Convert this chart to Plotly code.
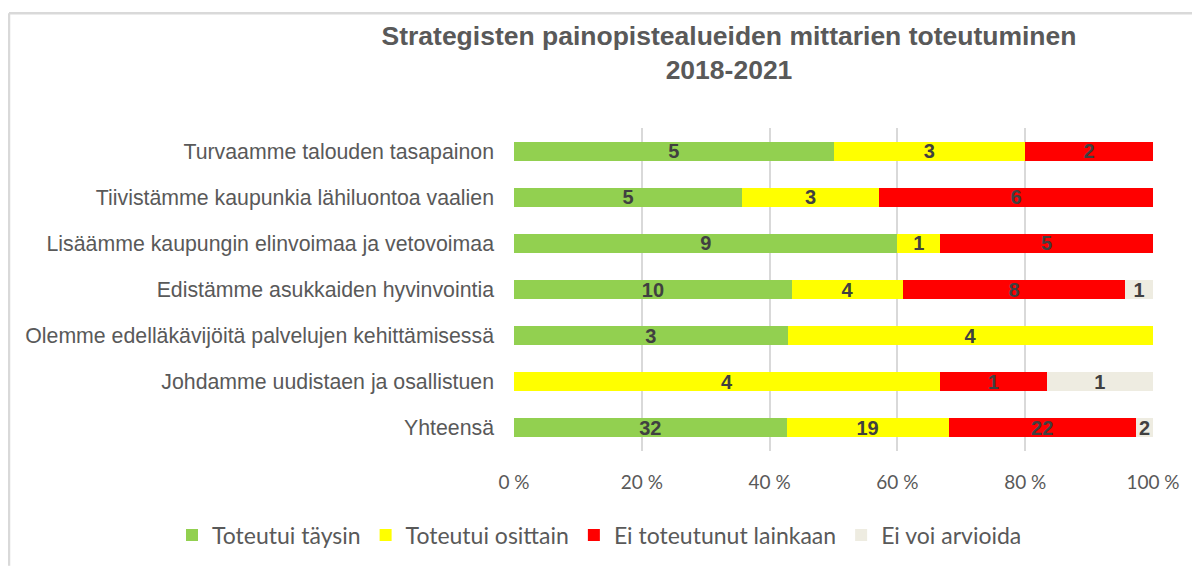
import plotly.graph_objects as go

categories = [
    "Turvaamme talouden tasapainon",
    "Tiivistämme kaupunkia lähiluontoa vaalien",
    "Lisäämme kaupungin elinvoimaa ja vetovoimaa",
    "Edistämme asukkaiden hyvinvointia",
    "Olemme edelläkävijöitä palvelujen kehittämisessä",
    "Johdamme uudistaen ja osallistuen",
    "Yhteensä",
]
series_names = ["Toteutui täysin", "Toteutui osittain", "Ei toteutunut lainkaan", "Ei voi arvioida"]
toteutui_taysin = [5, 5, 9, 10, 3, 0, 32]
toteutui_osittain = [3, 3, 1, 4, 4, 4, 19]
ei_toteutunut = [2, 6, 5, 8, 0, 1, 22]
ei_voi_arvioida = [0, 0, 0, 1, 0, 1, 2]
tick_vals = [0, 20, 40, 60, 80, 100]
tick_text = ["0 %", "20 %", "40 %", "60 %", "80 %", "100 %"]

colors = ["#92D050", "#FFFF00", "#FF0000", "#EEECE1"]
series = [toteutui_taysin, toteutui_osittain, ei_toteutunut, ei_voi_arvioida]

# page has an 8px body margin; figure-local coords = page coords - 8
OFF = 8
W, H = 1200 - OFF, 567 - OFF
L, R, T, B = 514 - OFF, 1200 - 1153, 128 - OFF, 567 - 452
pw, ph = W - L - R, H - T - B

fig = go.Figure()
for name, vals, col in zip(series_names, series, colors):
    fig.add_trace(go.Bar(
        y=categories, x=vals, name=name, orientation="h",
        marker=dict(color=col, line=dict(width=0)),
        text=[str(v) if v else "" for v in vals],
        textposition="inside", insidetextanchor="middle", constraintext="none",
        textangle=0,
        textfont=dict(family="Liberation Sans, Arial, sans-serif",
                      size=20, color="#404040", weight="bold"),
        hoverinfo="skip",
    ))

def px2x(px):
    return (px - OFF - L) / pw

def py2y(py):
    return (H - B - (py - OFF)) / ph

fig.update_layout(
    width=W, height=H,
    barmode="stack", barnorm="percent", bargap=0.59,
    plot_bgcolor="white", paper_bgcolor="white",
    margin=dict(l=L, r=R, t=T, b=B),
    title=dict(
        text="<b>Strategisten painopistealueiden mittarien toteutuminen<br>2018-2021</b>",
        x=(729 - OFF) / W, xanchor="center", xref="container",
        y=1 - (45 - OFF) / H, yanchor="top", yref="container",
        font=dict(family="Liberation Sans, Arial, sans-serif", size=26.5, color="#595959"),
    ),
    xaxis=dict(
        range=[0, 100], tickvals=tick_vals, ticktext=tick_text,
        showgrid=True, gridcolor="#D9D9D9", gridwidth=1.5, zeroline=False,
        showline=False, ticks="", ticklabelstandoff=18,
        tickfont=dict(family="Lato, Liberation Sans, sans-serif", size=19, color="#595959"),
        fixedrange=True,
    ),
    yaxis=dict(
        autorange="reversed", showgrid=False, showline=False, ticks="",
        ticklabelstandoff=19,
        tickfont=dict(family="Liberation Sans, Arial, sans-serif", size=21.3, color="#595959"),
    ),
    legend=dict(
        orientation="h", xref="paper", yref="paper",
        x=px2x(172), xanchor="left", y=py2y(535), yanchor="middle",
        font=dict(family="Lato, Liberation Sans, sans-serif", size=23, color="#595959"),
        itemwidth=30, traceorder="normal",
    ),
    showlegend=True,
    shapes=[
        dict(type="line", xref="paper", yref="paper", x0=px2x(9), x1=px2x(1200),
             y0=py2y(13), y1=py2y(13), line=dict(color="#D9D9D9", width=2.5)),
        dict(type="line", xref="paper", yref="paper", x0=px2x(9), x1=px2x(9),
             y0=py2y(13), y1=py2y(567), line=dict(color="#D9D9D9", width=2.5)),
    ],
)

fig.write_html("out.html")
